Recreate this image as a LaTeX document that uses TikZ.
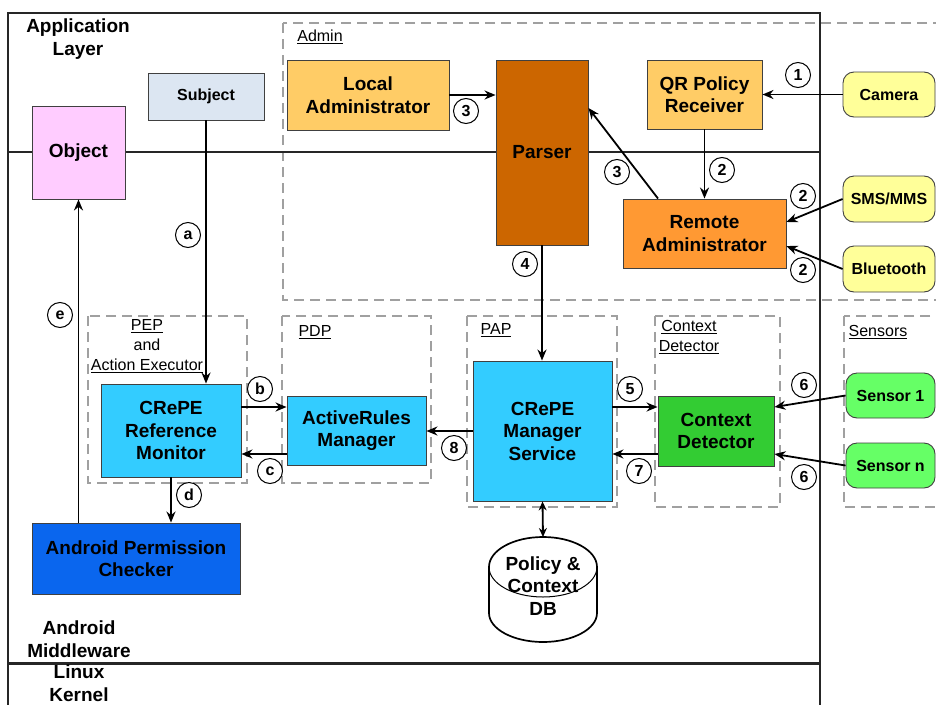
\documentclass[tikz,border=0pt]{standalone}
\usepackage{fontspec}
\setmainfont{Liberation Sans}
\usetikzlibrary{arrows.meta,calc}
\definecolor{csubj}{HTML}{DCE6F2}
\definecolor{cobj}{HTML}{FFCCFF}
\definecolor{cadm}{HTML}{FFCC66}
\definecolor{cpars}{HTML}{CC6600}
\definecolor{crem}{HTML}{FF9933}
\definecolor{cext}{HTML}{FFFF99}
\definecolor{ccrepe}{HTML}{33CCFF}
\definecolor{ccd}{HTML}{33CC33}
\definecolor{csens}{HTML}{66FF66}
\definecolor{capc}{HTML}{0A66EE}
\definecolor{cgrp}{HTML}{A0A0A0}
\tikzset{
  box/.style={draw=black!75, line width=0.9pt, align=center, inner sep=0pt,
    font=\bfseries\fontsize{19}{22.5}\selectfont},
  sbox/.style={box, font=\bfseries\fontsize{16}{19}\selectfont},
  rbox/.style={sbox, rounded corners=11pt},
  grp/.style={draw=cgrp, line width=1.3pt, dash pattern=on 10pt off 6pt},
  glabel/.style={font=\fontsize{16}{20}\selectfont, align=center, inner sep=0pt},
  num/.style={circle, draw, line width=1pt, fill=white, minimum size=25pt, inner sep=0pt,
    font=\bfseries\fontsize{16}{16}\selectfont},
  arr/.style={line width=1.8pt, -{Stealth[length=11pt,width=9pt]}},
  darr/.style={line width=1.8pt, {Stealth[length=9pt,width=8pt]}-{Stealth[length=9pt,width=8pt]}},
  layer/.style={font=\bfseries\fontsize{19}{22.5}\selectfont, align=center, inner sep=0pt},
  frame/.style={line width=2pt, draw=black!85},
}
\begin{document}
\begin{tikzpicture}[x=1pt,y=-1pt]
\useasboundingbox (0,0) rectangle (936,704);
\clip (0,0) rectangle (936,704);
\fill[white] (0,0) rectangle (936,704);

% group boxes
\draw[grp] (283,23) rectangle (960,300);
\draw[grp] (88,316) rectangle (247,483);
\draw[grp] (282,316) rectangle (431,483);
\draw[grp] (467,316) rectangle (617,507);
\draw[grp] (655,316) rectangle (780,507);
\draw[grp] (844,316) rectangle (960,507);

% frame
\draw[frame, line width=2.5pt] (8,13) -- (820,13);
\draw[frame] (8,12) -- (8,710);
\draw[frame] (820,12) -- (820,710);
\draw[frame, line width=1.6pt] (8,152) -- (820,152);
\draw[frame, line width=3pt] (8,663) -- (820,663);

% layer labels
\node[layer] (applayer) at (78,39) {Application\\Layer};
\node[layer] (midlayer) at (79,639) {Android\\Middleware};
\node[layer] (kernlayer) at (79,683) {Linux\\Kernel};

% group labels
\node[glabel] (admlbl) at (320,37) {\underline{Admin}};
\node[glabel] (peplbl) at (147,346) {\underline{PEP}\\and\\\underline{Action Executor}};
\node[glabel] (pdplbl) at (315,332) {\underline{PDP}};
\node[glabel] (paplbl) at (496,330) {\underline{PAP}};
\node[glabel] (cdlbl) at (689,337) {\underline{Context}\\\underline{Detector}};
\node[glabel] (senslbl) at (878,332) {\underline{Sensors}};

% nodes
\node[sbox, fill=csubj, minimum width=116pt, minimum height=47pt] (subject) at (206,96.5) {Subject};
\node[box, fill=cobj, minimum width=93pt, minimum height=93pt] (object) at (78.5,152.5) {Object};
\node[box, fill=cadm, minimum width=162pt, minimum height=70pt] (local) at (368,95) {Local\\Administrator};
\node[box, fill=cpars, minimum width=92pt, minimum height=185pt] (parser) at (542,152.5) {Parser};
\node[box, fill=cadm, minimum width=115pt, minimum height=69pt] (qr) at (704.5,94.5) {QR Policy\\Receiver};
\node[rbox, fill=cext, minimum width=92pt, minimum height=45pt] (camera) at (889,94.5) {Camera};
\node[box, fill=crem, minimum width=163pt, minimum height=69pt] (remote) at (704.5,233.5) {Remote\\Administrator};
\node[rbox, fill=cext, minimum width=92pt, minimum height=46pt] (sms) at (889,199) {SMS/MMS};
\node[rbox, fill=cext, minimum width=92pt, minimum height=46pt] (bt) at (889,269) {Bluetooth};
\node[box, fill=ccrepe, minimum width=140pt, minimum height=93pt] (rm) at (171,430.5) {CRePE\\Reference\\Monitor};
\node[box, fill=ccrepe, minimum width=139pt, minimum height=69pt] (arm) at (356.5,430.5) {ActiveRules\\Manager};
\node[box, fill=ccrepe, minimum width=139pt, minimum height=140pt] (cms) at (542.5,431) {CRePE\\Manager\\Service};
\node[box, fill=ccd, minimum width=116pt, minimum height=70pt] (cd) at (716,431) {Context\\Detector};
\node[rbox, fill=csens, minimum width=89pt, minimum height=45pt] (s1) at (890.5,395.5) {Sensor 1};
\node[rbox, fill=csens, minimum width=89pt, minimum height=45pt] (sn) at (890.5,465.5) {Sensor n};
\node[box, fill=capc, minimum width=208pt, minimum height=71pt] (apc) at (136,558.5) {Android Permission\\Checker};

% database cylinder
\draw[line width=1.7pt, fill=white] (489,567) -- (489,613)
  arc[start angle=180, end angle=360, x radius=54pt, y radius=29pt] -- (597,567)
  arc[start angle=0, end angle=180, x radius=54pt, y radius=30pt] -- cycle;
\draw[line width=1pt] (489,567) arc[start angle=180, end angle=360, x radius=54pt, y radius=30pt];
\coordinate (dbtop) at (543,537);
\node[layer] (db) at (543,586) {Policy \&\\Context\\DB};

% connectors
\draw[arr] (camera.west) -- (qr.east);
\draw[arr] (qr.south) -- (remote.north);
\draw[arr] (sms.west) -- ([yshift=11.5pt]remote.east);
\draw[arr] (bt.west) -- ([yshift=-12.5pt]remote.east);
\draw[arr] ([xshift=-46.5pt]remote.north) -- ([yshift=44.5pt]parser.east);
\draw[arr] (local.east) -- (local.east -| parser.west);
\draw[arr] (parser.south) -- (parser.south |- cms.north);
\draw[arr] (subject.south) -- (subject.south |- rm.north);
\draw[arr] ([yshift=23.5pt]rm.east) -- ([yshift=23.5pt]rm.east -| arm.west);
\draw[arr] ([yshift=-23.5pt]arm.west) -- ([yshift=-23.5pt]arm.west -| rm.east);
\draw[arr] (cms.west) -- (cms.west -| arm.east);
\draw[arr] ([yshift=24pt]cms.east) -- ([yshift=24pt]cms.east -| cd.west);
\draw[arr] ([yshift=-23pt]cd.west) -- ([yshift=-23pt]cd.west -| cms.east);
\draw[arr] (s1.west) -- ([yshift=24pt]cd.east);
\draw[arr] (sn.west) -- ([yshift=-23pt]cd.east);
\draw[arr] (rm.south) -- (rm.south |- apc.north);
\draw[arr] (apc.north -| object.south) -- (object.south);
\draw[darr] (cms.south) -- (dbtop);

% step labels
\node[num] (n1) at (798,75) {1};
\node[num] (n2a) at (722,170) {2};
\node[num] (n2b) at (803,196) {2};
\node[num] (n2c) at (803,270) {2};
\node[num] (n3a) at (466,111) {3};
\node[num] (n3b) at (617,172) {3};
\node[num] (n4) at (525,264) {4};
\node[num] (n5) at (630,389) {5};
\node[num] (n6a) at (804,385) {6};
\node[num] (n6b) at (804,477) {6};
\node[num] (n7) at (639,471) {7};
\node[num] (n8) at (454,448) {8};
\node[num] (la) at (188,235) {a};
\node[num] (lb) at (260,389) {b};
\node[num] (lc) at (270,471) {c};
\node[num] (ld) at (189,495) {d};
\node[num] (le) at (60,315) {e};
\end{tikzpicture}
\end{document}
